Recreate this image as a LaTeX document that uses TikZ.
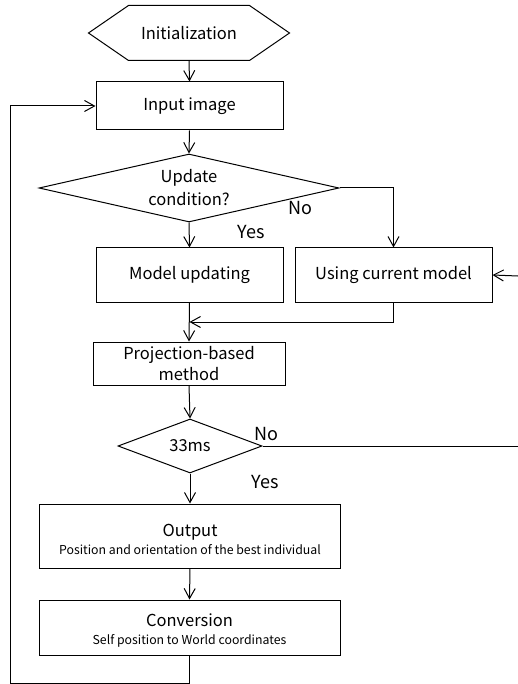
\documentclass[tikz,border=0pt]{standalone}
\usepackage{fontspec}
\setmainfont{Noto Sans CJK JP}
\usetikzlibrary{arrows.meta,shapes.geometric}
\newcommand\subtxt{\fontsize{12.3}{15}\selectfont}
\begin{document}
\begin{tikzpicture}[x=1pt,y=-1pt,
  line width=1pt,
  >={Straight Barb[length=10pt,width=11pt]},
  box/.style={draw, rectangle, inner sep=0pt, align=center, font=\fontsize{16.5}{20}\selectfont},
  dia/.style={draw, diamond, inner sep=0pt, align=center, font=\fontsize{16.5}{23}\selectfont},
  ghost/.style={rectangle, inner sep=0pt, align=center, font=\fontsize{16.5}{20}\selectfont},
  lbl/.style={inner sep=0pt, font=\fontsize{18}{20}\selectfont},
  twoline/.style={text height=37pt}
]
\useasboundingbox (0,0) rectangle (518,684);

% nodes
\node[ghost, minimum width=200pt, minimum height=54pt] (init) at (189,33) {Initialization};
\draw (init.west) -- ([xshift=40pt]init.north west) -- ([xshift=-40pt]init.north east)
  -- (init.east) -- ([xshift=-40pt]init.south east) -- ([xshift=40pt]init.south west) -- cycle;

\node[box, minimum width=187pt, minimum height=48pt] (input) at (189.5,106) {Input image};
\node[dia, aspect=4.4, minimum width=300pt, minimum height=68pt] (upd) at (189,188) {Update\\condition?};
\node[box, minimum width=187pt, minimum height=54pt] (model) at (189.5,275) {Model updating};
\node[box, minimum width=197pt, minimum height=54pt] (cur) at (393.5,275) {Using current model};
\node[box, minimum width=192pt, minimum height=43pt] (proj) at (189,363.5) {Projection-based\\[1pt]method};
\node[dia, aspect=2.67, minimum width=144pt, minimum height=54pt] (tms) at (190,446) {33ms};
\node[box, twoline, minimum width=301pt, minimum height=64pt] (out) at (190,536)
  {Output\\[-2pt]{\subtxt Position and orientation of the best individual}};
\node[box, twoline, minimum width=301pt, minimum height=55pt] (conv) at (189.5,627.5)
  {Conversion\\[-2pt]{\subtxt Self position to World coordinates}};

% branch labels
\node[lbl] (no1) at (300,208) {No};
\node[lbl] (yes1) at (251,232) {Yes};
\node[lbl] (no2) at (266,434) {No};
\node[lbl] (yes2) at (265,482) {Yes};

% helper coordinates
\coordinate (edgeA) at (518,276);
\coordinate (edgeB) at (518,446);
\coordinate (merge) at (189.5,322);
\coordinate (loopL) at (10,683);

% connectors
\draw[->] (init.south) -- (input.north);
\draw[->] (input.south) -- (upd.north);
\draw[->] (upd.south) -- (model.north);
\draw[->] (upd.east) -| (cur.north);
\draw[->] (edgeA) -- (cur.east);
\draw[->] (cur.south) |- (merge);
\draw[->] (model.south) -- (proj.north);
\draw[->] (proj.south) -- (tms.north);
\draw (tms.east) -- (edgeB);
\draw[->] (tms.south) -- (out.north);
\draw[->] (out.south) -- (conv.north);
\draw[->] (conv.south) |- (loopL) |- (input.west);
\end{tikzpicture}
\end{document}
